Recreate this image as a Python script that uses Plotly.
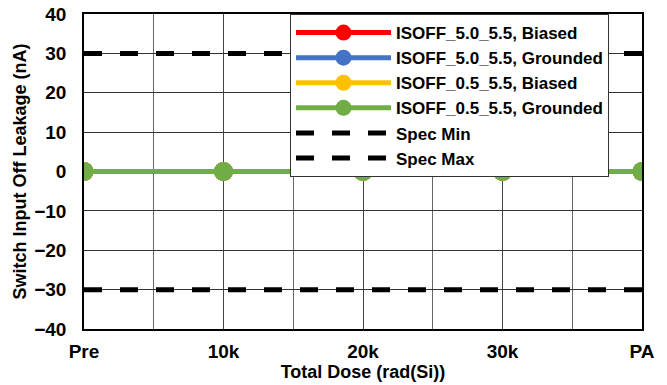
import plotly.graph_objects as go

categories = ["Pre", "10k", "20k", "30k", "PA"]
x_pos = [0, 1, 2, 3, 4]
series_names = ["ISOFF_5.0_5.5, Biased", "ISOFF_5.0_5.5, Grounded",
                "ISOFF_0.5_5.5, Biased", "ISOFF_0.5_5.5, Grounded"]
series_values = [
    [0, 0, 0, 0, 0],
    [0, 0, 0, 0, 0],
    [0, 0, 0, 0, 0],
    [0, 0, 0, 0, 0],
]
series_colors = ["#FF0000", "#4472C4", "#FFC000", "#70AD47"]
spec_min = [-30, -30, -30, -30, -30]
spec_max = [30, 30, 30, 30, 30]

FONT = "Liberation Sans, Arial, sans-serif"
W, H = 667, 385
L, R, T, B = 84, 25, 14, 56
PW, PH = W - L - R, H - T - B

fig = go.Figure()
for name, vals, col in zip(series_names, series_values, series_colors):
    fig.add_trace(go.Scatter(
        x=x_pos, y=vals, name=name, mode="lines+markers",
        line=dict(color=col, width=5),
        marker=dict(color=col, size=19),
    ))
for name, vals in [("Spec Min", spec_min), ("Spec Max", spec_max)]:
    fig.add_trace(go.Scatter(
        x=x_pos, y=vals, name=name, mode="lines",
        line=dict(color="black", width=5, dash="18px,18px"),
    ))

fig.update_layout(
    width=W, height=H,
    margin=dict(l=L, r=R, t=T, b=B),
    paper_bgcolor="white", plot_bgcolor="white",
    font=dict(family=FONT, color="black"),
    showlegend=True,
    legend=dict(
        x=(290 - L) / PW, y=1.0, xanchor="left", yanchor="top",
        bgcolor="white", bordercolor="#333", borderwidth=1,
        font=dict(family=FONT, size=17, color="black", weight="bold"),
        itemwidth=95, tracegroupgap=0,
    ),
)
fig.update_xaxes(
    automargin=False,
    range=[0, 4], tickvals=x_pos, ticktext=categories,
    showgrid=True, gridcolor="#444", gridwidth=1,
    minor=dict(tickvals=[0.5, 1.5, 2.5, 3.5], showgrid=True, gridcolor="#666", gridwidth=1),
    showline=True, linecolor="black", linewidth=1.5, mirror=True,
    zeroline=False,
    tickfont=dict(family=FONT, size=19, weight="bold"),
    ticklabelstandoff=4,
    title=dict(text="Total Dose (rad(Si))", font=dict(family=FONT, size=18, weight="bold"), standoff=0),
    ticks="",
)
fig.update_yaxes(
    automargin=False,
    range=[-40, 40], dtick=10,
    showgrid=True, gridcolor="#333", gridwidth=1,
    showline=True, linecolor="black", linewidth=1.5, mirror=True,
    zeroline=False,
    tickfont=dict(family=FONT, size=19, weight="bold"),
    ticklabelstandoff=12,
    title=dict(text="Switch Input Off Leakage (nA)", font=dict(family=FONT, size=18, weight="bold"), standoff=3),
    ticks="",
)

fig.write_html("out.html", config={"displayModeBar": False},
               post_script="document.body.style.margin='0';")
